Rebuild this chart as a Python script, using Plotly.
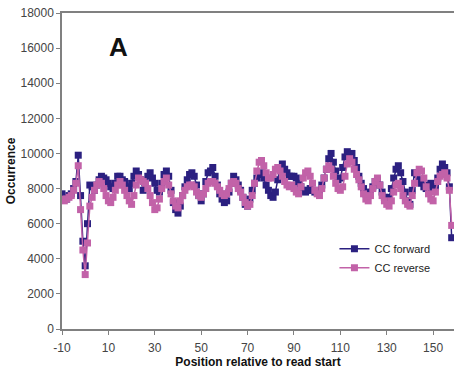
import plotly.graph_objects as go

positions = list(range(-10, 159))

cc_forward = [
    7700, 7500, 7400, 7600, 7700, 8000, 8400, 9900, 7600, 5000,   # -10..-1
    3600, 6000, 8200, 8100, 7900, 8200, 8500, 8700, 8600, 8500,   # 0..9
    8300, 8100, 8000, 8300, 8700, 8700, 8500, 8400, 8100, 8000,   # 10..19
    8300, 8700, 9000, 8800, 8500, 7900, 8200, 8700, 8900, 8600,   # 20..29
    8300, 7900, 7800, 8300, 8800, 9000, 8700, 7900, 7200, 6800,   # 30..39
    6600, 7000, 7600, 8100, 8500, 8800, 8900, 8700, 8200, 7600,   # 40..49
    7300, 7700, 8400, 8900, 9000, 9200, 8700, 8200, 7700, 7400,   # 50..59
    7200, 7300, 7800, 8300, 8700, 8500, 8200, 7900, 7500, 7100,   # 60..69
    7000, 7400, 7900, 8300, 8600, 8800, 8900, 8600, 8200, 7900,   # 70..79
    7600, 7500, 7800, 8500, 9200, 9400, 9100, 8900, 8700, 8700,   # 80..89
    8700, 8600, 8300, 8100, 7900, 7800, 7900, 8000, 7900, 7800,   # 90..99
    7800, 7900, 8200, 8600, 9100, 9700, 10000, 9500, 9000, 8500,  # 100..109
    8600, 9200, 9800, 10100, 9900, 10000, 9600, 9200, 8700, 8300, # 110..119
    8000, 7700, 7600, 7800, 8100, 8400, 8500, 8200, 7800, 7500,   # 120..129
    7400, 7500, 8000, 8600, 9100, 9300, 8900, 8400, 7800, 7300,   # 130..139
    7100, 7900, 8900, 8800, 8500, 8300, 8100, 8000, 8200, 8300,   # 140..149
    8000, 8100, 8600, 9100, 9400, 9200, 8900, 8100, 5200,         # 150..158
]

cc_reverse = [
    7400, 7300, 7400, 7500, 7600, 7900, 8300, 9300, 6800, 4500,   # -10..-1
    3100, 4900, 7000, 7500, 7900, 8200, 8400, 8300, 8000, 7600,   # 0..9
    7300, 7200, 7500, 7900, 8200, 8400, 8200, 7900, 7600, 7300,   # 10..19
    7100, 7600, 8200, 8600, 8500, 8400, 8300, 8000, 7600, 7200,   # 20..29
    6800, 6900, 7400, 8000, 8400, 8600, 8200, 7700, 7300, 7000,   # 30..39
    6900, 7300, 7600, 7900, 8100, 8200, 8200, 8100, 7800, 7600,   # 40..49
    7500, 7700, 8000, 8300, 8400, 8400, 8300, 8100, 7900, 7700,   # 50..59
    7600, 7700, 8000, 8300, 8400, 8300, 8000, 7800, 7500, 7200,   # 60..69
    7000, 7100, 7600, 8300, 9000, 9500, 9600, 9300, 8900, 8600,   # 70..79
    8600, 8800, 9100, 9200, 9000, 8700, 8400, 8200, 8100, 8200,   # 80..89
    8000, 7800, 7700, 8100, 8600, 8900, 9000, 8700, 8300, 7900,   # 90..99
    7700, 7600, 8000, 8600, 9100, 9300, 9100, 8700, 8300, 8000,   # 100..109
    7900, 8100, 8700, 9400, 9700, 9500, 9100, 8800, 8500, 8100,   # 110..119
    7700, 7400, 7300, 7600, 8000, 8400, 8600, 8200, 7600, 7300,   # 120..129
    7100, 7000, 7300, 7800, 8200, 8300, 8000, 7600, 7300, 7100,   # 130..139
    7000, 7600, 8300, 8900, 9100, 9000, 8600, 8100, 7700, 7400,   # 140..149
    7300, 7800, 8400, 8700, 8800, 8900, 8600, 7900, 5900,         # 150..158
]

x_ticks = [-10, 10, 30, 50, 70, 90, 110, 130, 150]
x_tick_labels = ["-10", "10", "30", "50", "70", "90", "110", "130", "150"]
y_ticks = [0, 2000, 4000, 6000, 8000, 10000, 12000, 14000, 16000, 18000]
y_tick_labels = ["0", "2000", "4000", "6000", "8000", "10000", "12000",
                 "14000", "16000", "18000"]

NAVY = "#2B2080"
PINK = "#C262A8"
FONT = "Liberation Sans, Arial, sans-serif"

fig = go.Figure()
fig.add_trace(go.Scatter(
    x=positions, y=cc_forward, name="CC forward", mode="lines+markers",
    line=dict(color=NAVY, width=1.5),
    marker=dict(symbol="square", size=7, color=NAVY),
))
fig.add_trace(go.Scatter(
    x=positions, y=cc_reverse, name="CC reverse", mode="lines+markers",
    line=dict(color=PINK, width=1.5),
    marker=dict(symbol="square", size=7, color=PINK),
))

fig.update_layout(
    width=454, height=370,
    margin=dict(l=62, r=0, t=13, b=41),
    paper_bgcolor="white", plot_bgcolor="white",
    font=dict(family=FONT, size=12, color="#444"),
    showlegend=True,
    legend=dict(
        x=0.695, y=0.30, xanchor="left", yanchor="top",
        bgcolor="rgba(0,0,0,0)", font=dict(size=11, color="#222"),
        tracegroupgap=0, itemwidth=30,
    ),
    annotations=[dict(
        text="<b>A</b>", x=0.143, y=0.892, xref="paper", yref="paper",
        xanchor="center", yanchor="middle",
        showarrow=False, font=dict(size=26, color="#111", family=FONT),
    )],
)
fig.update_xaxes(
    range=[-10, 159], tickvals=x_ticks, ticktext=x_tick_labels,
    ticks="outside", ticklen=4, ticklabelstandoff=3,
    tickcolor="#808080", showline=True, linecolor="#808080", linewidth=1.5,
    mirror=True, showgrid=False, zeroline=False,
    tickfont=dict(size=12, color="#444"),
    title=dict(text="<b>Position relative to read start</b>",
               font=dict(size=12, color="#111"), standoff=3),
)
fig.update_yaxes(
    range=[0, 18000], tickvals=y_ticks, ticktext=y_tick_labels,
    ticks="outside", ticklen=4,
    tickcolor="#808080", showline=True, linecolor="#808080", linewidth=1.5,
    showgrid=False, zeroline=False,
    tickfont=dict(size=12, color="#444"),
    title=dict(text="<b>Occurrence</b>", font=dict(size=12, color="#111"),
               standoff=2),
)

fig.write_html("out.html")
